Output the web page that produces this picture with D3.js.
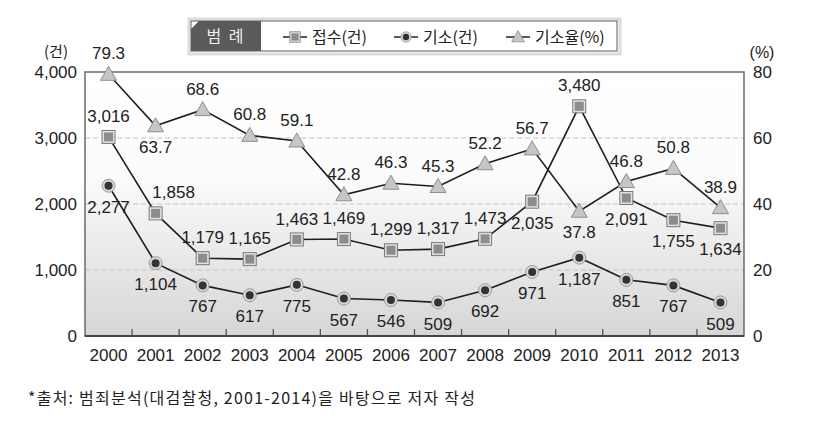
<!DOCTYPE html>
<html>
<head>
<meta charset="utf-8">
<script src="https://cdn.jsdelivr.net/npm/d3@7"></script>
<style>
  body { margin: 0; background: #fff; }
  svg text { font-family: "Liberation Sans", Arial, "Noto Sans CJK KR", sans-serif; fill: #222; }
  svg text.ko { font-family: "Noto Sans CJK KR", "Liberation Sans", sans-serif; }
</style>
</head>
<body>
<div id="chart"></div>
<script>
// data
var years = ["2000", "2001", "2002", "2003", "2004", "2005", "2006", "2007", "2008", "2009", "2010", "2011", "2012", "2013"];
var received = [3016, 1858, 1179, 1165, 1463, 1469, 1299, 1317, 1473, 2035, 3480, 2091, 1755, 1634];  // 접수(건)
var indicted = [2277, 1104, 767, 617, 775, 567, 546, 509, 692, 971, 1187, 851, 767, 509];  // 기소(건)
var rate = [79.3, 63.7, 68.6, 60.8, 59.1, 42.8, 46.3, 45.3, 52.2, 56.7, 37.8, 46.8, 50.8, 38.9];  // 기소율(%)
var leftTicks = [0, 1000, 2000, 3000, 4000];
var rightTicks = [0, 20, 40, 60, 80];

// where each value label sits: "u" above, "d" below, "r" above and to the right
var receivedLabelPos = ["u", "r", "u", "u", "u", "u", "u", "u", "u", "d", "u", "d", "d", "d"];
var indictedLabelPos = ["d", "d", "d", "d", "d", "d", "d", "d", "d", "d", "d", "d", "d", "d"];
var rateLabelPos = ["u", "d", "u", "u", "u", "u", "u", "u", "u", "u", "d", "u", "u", "u"];

var W = 825, H = 428;
var margin = { left: 85, right: 81, top: 72, bottom: 92 };

var svg = d3.select("#chart").append("svg")
    .attr("width", W)
    .attr("height", H);

var x = d3.scaleBand().domain(years).range([margin.left, W - margin.right]);
var yL = d3.scaleLinear().domain([0, 4000]).range([H - margin.bottom, margin.top]);
var yR = d3.scaleLinear().domain([0, 80]).range([H - margin.bottom, margin.top]);
var cx = function(i) { return x(years[i]) + x.bandwidth() / 2; };
var fmt = d3.format(",");

// plot background gradient
var defs = svg.append("defs");
var grad = defs.append("linearGradient").attr("id", "bg").attr("x1", 0).attr("y1", 0).attr("x2", 0).attr("y2", 1);
grad.append("stop").attr("offset", "0%").attr("stop-color", "#ffffff");
grad.append("stop").attr("offset", "40%").attr("stop-color", "#fbfbfb");
grad.append("stop").attr("offset", "100%").attr("stop-color", "#d6d6d6");

svg.append("rect")
    .attr("x", margin.left).attr("y", margin.top)
    .attr("width", W - margin.left - margin.right)
    .attr("height", H - margin.top - margin.bottom)
    .attr("fill", "url(#bg)");

// dashed grid lines
svg.append("g").selectAll("line")
    .data(leftTicks.filter(function(d) { return d > 0 && d < 4000; }))
    .enter().append("line")
    .attr("x1", margin.left).attr("x2", W - margin.right)
    .attr("y1", function(d) { return yL(d); })
    .attr("y2", function(d) { return yL(d); })
    .attr("stroke", "#c4c4c4")
    .attr("stroke-dasharray", "5,3");

// frame
svg.append("rect")
    .attr("x", margin.left).attr("y", margin.top)
    .attr("width", W - margin.left - margin.right)
    .attr("height", H - margin.top - margin.bottom)
    .attr("fill", "none")
    .attr("stroke", "#6a6a6a")
    .attr("stroke-width", 1.5);

// bottom axis ticks at band edges, pointing inward
svg.append("g").selectAll("line")
    .data(years.slice(1))
    .enter().append("line")
    .attr("x1", function(d) { return x(d); })
    .attr("x2", function(d) { return x(d); })
    .attr("y1", yL(0))
    .attr("y2", yL(0) - 7)
    .attr("stroke", "#555")
    .attr("stroke-width", 1.3);

svg.append("line")
    .attr("x1", margin.left).attr("x2", W - margin.right)
    .attr("y1", yL(0)).attr("y2", yL(0))
    .attr("stroke", "#444").attr("stroke-width", 1.8);

// axis labels
svg.append("g").selectAll("text")
    .data(leftTicks).enter().append("text")
    .attr("x", margin.left - 8)
    .attr("y", function(d) { return yL(d); })
    .attr("dy", "0.36em")
    .attr("text-anchor", "end")
    .attr("font-size", 17)
    .text(function(d) { return fmt(d); });

svg.append("g").selectAll("text")
    .data(rightTicks).enter().append("text")
    .attr("x", W - margin.right + 9)
    .attr("y", function(d) { return yR(d); })
    .attr("dy", "0.36em")
    .attr("font-size", 17)
    .text(function(d) { return d; });

svg.append("g").selectAll("text")
    .data(years).enter().append("text")
    .attr("x", function(d, i) { return cx(i); })
    .attr("y", yL(0) + 19)
    .attr("dy", "0.36em")
    .attr("text-anchor", "middle")
    .attr("font-size", 17)
    .text(function(d) { return d; });

svg.append("text").attr("class", "ko")
    .attr("x", 56).attr("y", 52).attr("dy", "0.36em")
    .attr("text-anchor", "middle").attr("font-size", 15)
    .text("(건)");
svg.append("text")
    .attr("x", 762).attr("y", 52).attr("dy", "0.36em")
    .attr("text-anchor", "middle").attr("font-size", 16)
    .text("(%)");

// lines
function drawLine(values, scale) {
    var line = d3.line()
        .x(function(d, i) { return cx(i); })
        .y(function(d) { return scale(d); });
    svg.append("path")
        .datum(values)
        .attr("d", line)
        .attr("fill", "none")
        .attr("stroke", "#1e1e1e")
        .attr("stroke-width", 1.6);
}
drawLine(rate, yR);
drawLine(received, yL);
drawLine(indicted, yL);

// markers
function square(g, px, py) {
    g.append("rect").attr("x", px - 6.5).attr("y", py - 6.5).attr("width", 13).attr("height", 13)
        .attr("fill", "#e2e2e2").attr("stroke", "#7a7a7a").attr("stroke-width", 1);
    g.append("rect").attr("x", px - 4.5).attr("y", py - 4.5).attr("width", 9).attr("height", 9)
        .attr("fill", "#8c8c8c");
}
function dot(g, px, py) {
    g.append("circle").attr("cx", px).attr("cy", py).attr("r", 6.5)
        .attr("fill", "#d8d8d8").attr("stroke", "#9a9a9a").attr("stroke-width", 1);
    g.append("circle").attr("cx", px).attr("cy", py).attr("r", 4)
        .attr("fill", "#333");
}
function tri(g, px, py) {
    g.append("path")
        .attr("d", "M" + px + "," + (py - 8) + "L" + (px + 8) + "," + (py + 6) + "L" + (px - 8) + "," + (py + 6) + "Z")
        .attr("fill", "#c6c6c6").attr("stroke", "#8e8e8e").attr("stroke-width", 1);
}

var gm = svg.append("g");
rate.forEach(function(d, i) { tri(gm, cx(i), yR(d)); });
received.forEach(function(d, i) { square(gm, cx(i), yL(d)); });
indicted.forEach(function(d, i) { dot(gm, cx(i), yL(d)); });

// value labels
function labels(values, scale, pos, text) {
    svg.append("g").selectAll("text")
        .data(values).enter().append("text")
        .attr("x", function(d, i) { return cx(i) + (pos[i] === "r" ? 18 : 0); })
        .attr("y", function(d, i) { return scale(d) + (pos[i] === "d" ? 21 : -21); })
        .attr("dy", "0.36em")
        .attr("text-anchor", "middle")
        .attr("font-size", 17)
        .text(text);
}
labels(received, yL, receivedLabelPos, function(d) { return fmt(d); });
labels(indicted, yL, indictedLabelPos, function(d) { return fmt(d); });
labels(rate, yR, rateLabelPos, function(d) { return d.toFixed(1); });

// legend
var lg = svg.append("g");
lg.append("rect").attr("x", 189).attr("y", 19).attr("width", 431).attr("height", 35)
    .attr("fill", "none").attr("stroke", "#dcdcdc").attr("stroke-width", 3);
lg.append("rect").attr("x", 191).attr("y", 21).attr("width", 426).attr("height", 30)
    .attr("fill", "#fff").attr("stroke", "#777").attr("stroke-width", 1.2);
lg.append("path")
    .attr("d", "M191,29L199,21L261,21L261,51L191,51Z")
    .attr("fill", "#5a5a5a");
lg.append("text").attr("class", "ko")
    .attr("x", 226).attr("y", 36).attr("dy", "0.36em")
    .attr("text-anchor", "middle").attr("font-size", 16)
    .attr("letter-spacing", "2")
    .style("fill", "#f0f0f0")
    .text("범 례");

var legendItems = [
    { name: "접수(건)", mx: 295, draw: square },
    { name: "기소(건)", mx: 406, draw: dot },
    { name: "기소율(%)", mx: 518, draw: tri }
];
legendItems.forEach(function(it) {
    lg.append("line").attr("x1", it.mx - 12).attr("x2", it.mx + 12)
        .attr("y1", 37).attr("y2", 37).attr("stroke", "#222").attr("stroke-width", 1.5);
    var g = lg.append("g").attr("transform", "translate(" + it.mx + ",37) scale(0.8) translate(" + (-it.mx) + ",-37)");
    it.draw(g, it.mx, 37);
    lg.append("text").attr("class", "ko")
        .attr("x", it.mx + 17).attr("y", 37).attr("dy", "0.36em")
        .attr("font-size", 16)
        .text(it.name);
});

// source note
svg.append("text").attr("class", "ko")
    .attr("x", 28).attr("y", 398).attr("dy", "0.36em")
    .attr("font-size", 16)
    .attr("textLength", 447)
    .attr("lengthAdjust", "spacing")
    .text("*출처: 범죄분석(대검찰청, 2001-2014)을 바탕으로 저자 작성");
</script>
</body>
</html>
